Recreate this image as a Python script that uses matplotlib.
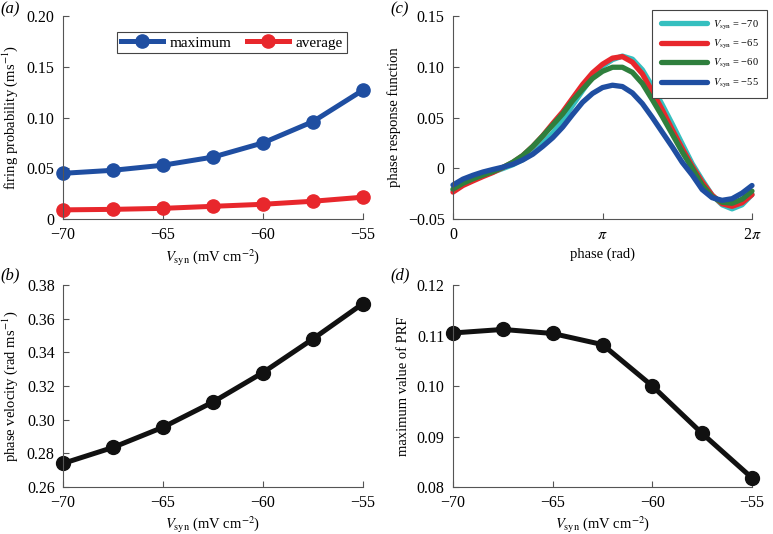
import numpy as np
import matplotlib
matplotlib.use("Agg")
import matplotlib.pyplot as plt

plt.rcParams['font.family'] = ['Liberation Serif', 'DejaVu Serif']
plt.rcParams['mathtext.fontset'] = 'stix'
plt.rcParams['axes.unicode_minus'] = True

# data
vsyn = [-70, -67.5, -65, -62.5, -60, -57.5, -55]
fire_max = [0.045, 0.048, 0.053, 0.061, 0.075, 0.096, 0.127]
fire_avg = [0.009, 0.0095, 0.0105, 0.0125, 0.0145, 0.0175, 0.0215]
phase_vel = [0.274, 0.2835, 0.2955, 0.3105, 0.328, 0.348, 0.369]
prf_max = [0.1105, 0.1112, 0.1104, 0.1082, 0.1000, 0.0906, 0.0818]

# phase response curves, sampled every 2*pi/30
phase = [0, 0.209, 0.419, 0.628, 0.838, 1.047, 1.257, 1.466, 1.676, 1.885,
         2.094, 2.304, 2.513, 2.723, 2.932, 3.142, 3.351, 3.560, 3.770, 3.979,
         4.189, 4.398, 4.608, 4.817, 5.027, 5.236, 5.445, 5.655, 5.864, 6.074, 6.283]
prf_70 = [-0.0215, -0.0155, -0.0112, -0.0072, -0.0037, -0.0003, 0.0035, 0.0085, 0.015, 0.0245,
          0.0345, 0.047, 0.062, 0.0765, 0.090, 0.1005, 0.107, 0.1105, 0.1075, 0.097,
          0.0805, 0.0625, 0.0435, 0.024, 0.0045, -0.0115, -0.0265, -0.036, -0.040, -0.036, -0.026]
prf_65 = [-0.0235, -0.017, -0.0125, -0.0082, -0.0042, 0.0007, 0.0057, 0.0125, 0.0215, 0.032,
          0.044, 0.0555, 0.069, 0.0825, 0.094, 0.1025, 0.1085, 0.110, 0.1045, 0.093,
          0.0755, 0.0575, 0.038, 0.0195, 0.002, -0.0135, -0.0265, -0.035, -0.0375, -0.034, -0.026]
prf_60 = [-0.0205, -0.0148, -0.0105, -0.0068, -0.0033, 0.0008, 0.006, 0.0125, 0.0215, 0.0318,
          0.0425, 0.0535, 0.0665, 0.0778, 0.0885, 0.0955, 0.0995, 0.0995, 0.0945, 0.0835,
          0.0675, 0.051, 0.0335, 0.016, 0.0, -0.0165, -0.028, -0.0335, -0.0345, -0.0305, -0.0225]
prf_55 = [-0.0165, -0.0107, -0.0069, -0.0037, -0.0012, 0.0011, 0.0039, 0.0082, 0.0138, 0.0215,
          0.030, 0.0405, 0.053, 0.065, 0.0737, 0.0795, 0.0818, 0.0805, 0.0742, 0.0637,
          0.050, 0.0355, 0.021, 0.0058, -0.0067, -0.021, -0.029, -0.0316, -0.030, -0.0245, -0.017]
prf_labels = ['70', '65', '60', '55']

blue = '#1f4ea1'
red = '#e8272c'
cyan = '#35bfbf'
green = '#2f7f3d'

W, H = 773, 534
fig = plt.figure(figsize=(W / 100, H / 100), dpi=100)


def make_ax(x0, x1, y0, y1):
    ax = fig.add_axes([x0 / W, 1 - y1 / H, (x1 - x0) / W, (y1 - y0) / H])
    for s in ['top', 'right']:
        ax.spines[s].set_visible(False)
    for s in ['left', 'bottom']:
        ax.spines[s].set_color('#555555')
        ax.spines[s].set_linewidth(0.8)
    ax.tick_params(direction='in', length=4, width=0.8, color='#555555', labelsize=11.5)
    ax.tick_params(axis='x', pad=6)
    ax.tick_params(axis='y', pad=6)
    return ax


vlabel = r'$V_{\rm syn}$ (mV cm$^{-2}$)'
vticks = [-70, -65, -60, -55]
vticklabels = ['\u221270', '\u221265', '\u221260', '\u221255']
lab_fs = 10.5

# (a)
ax = make_ax(63, 363, 16, 219)
ax.plot(vsyn, fire_max, '-o', color=blue, lw=3.6, ms=9.5, label='maximum')
ax.plot(vsyn, fire_avg, '-o', color=red, lw=3.6, ms=9.5, label='average')
ax.set_xlim(-70, -55)
ax.set_ylim(0, 0.2)
ax.set_xticks(vticks)
ax.set_xticklabels(vticklabels)
ax.set_yticks([0, 0.05, 0.1, 0.15, 0.2])
ax.set_yticklabels(['0', '0.05', '0.10', '0.15', '0.20'])
ax.set_xlabel(vlabel, fontsize=lab_fs, labelpad=3)
ax.set_ylabel(r'firing probability (ms$^{-1}$)', fontsize=lab_fs, labelpad=5)
leg = ax.legend(loc='upper center', bbox_to_anchor=(0.562, 0.958), ncol=2, fontsize=11,
                fancybox=False, edgecolor='#444444', framealpha=1, handlelength=2.8,
                columnspacing=1.0, handletextpad=0.4, borderpad=0.25)
leg.get_frame().set_linewidth(0.8)

# (b)
ax = make_ax(63, 363, 285, 487)
ax.plot(vsyn, phase_vel, '-o', color='#111111', lw=3.6, ms=10)
ax.set_xlim(-70, -55)
ax.set_ylim(0.26, 0.38)
ax.set_xticks(vticks)
ax.set_xticklabels(vticklabels)
ax.set_yticks([0.26, 0.28, 0.30, 0.32, 0.34, 0.36, 0.38])
ax.set_yticklabels(['0.26', '0.28', '0.30', '0.32', '0.34', '0.36', '0.38'])
ax.set_xlabel(vlabel, fontsize=lab_fs, labelpad=2)
ax.set_ylabel(r'phase velocity (rad ms$^{-1}$)', fontsize=lab_fs, labelpad=5)

# (c)
ax = make_ax(453, 752, 16, 219)
for ys, col, lab in zip([prf_70, prf_65, prf_60, prf_55], [cyan, red, green, blue], prf_labels):
    ax.plot(phase, ys, color=col, lw=3.8, solid_joinstyle='round', solid_capstyle='round',
            label=r'$V_{\rm syn}$' + ' = \u2212' + lab)
ax.set_xlim(0, 2 * np.pi)
ax.set_ylim(-0.05, 0.15)
ax.set_xticks([0, np.pi, 2 * np.pi])
ax.set_xticklabels(['0', r'$\pi$', r'2$\pi$'])
ax.set_yticks([-0.05, 0, 0.05, 0.1, 0.15])
ax.set_yticklabels(['\u22120.05', '0', '0.05', '0.10', '0.15'])
ax.set_xlabel('phase (rad)', fontsize=lab_fs, labelpad=3)
ax.set_ylabel('phase response function', fontsize=lab_fs, labelpad=5)
leg = ax.legend(loc='upper right', bbox_to_anchor=(772 / W, 1 - 5 / H),
                bbox_transform=fig.transFigure, fontsize=7.5, fancybox=False,
                edgecolor='#444444', framealpha=1, handlelength=4.5, labelspacing=0.6,
                handletextpad=0.5, borderpad=0.8)
leg.get_frame().set_linewidth(0.8)

# (d)
ax = make_ax(453, 752, 285, 487)
ax.plot(vsyn, prf_max, '-o', color='#111111', lw=3.6, ms=10)
ax.set_xlim(-70, -55)
ax.set_ylim(0.08, 0.12)
ax.set_xticks(vticks)
ax.set_xticklabels(vticklabels)
ax.set_yticks([0.08, 0.09, 0.10, 0.11, 0.12])
ax.set_yticklabels(['0.08', '0.09', '0.10', '0.11', '0.12'])
ax.set_xlabel(vlabel, fontsize=lab_fs, labelpad=2)
ax.set_ylabel('maximum value of PRF', fontsize=lab_fs, labelpad=5)

# panel letters
for lab, x, y in [('(a)', 0, 9), ('(c)', 390, 9), ('(b)', 0, 275), ('(d)', 390, 275)]:
    fig.text(x / W, 1 - y / H, lab, fontsize=12, style='italic', va='center', ha='left')

for a in fig.axes:
    for ln in a.lines:
        ln.set_clip_on(False)

fig.savefig('out.png', dpi=100)
